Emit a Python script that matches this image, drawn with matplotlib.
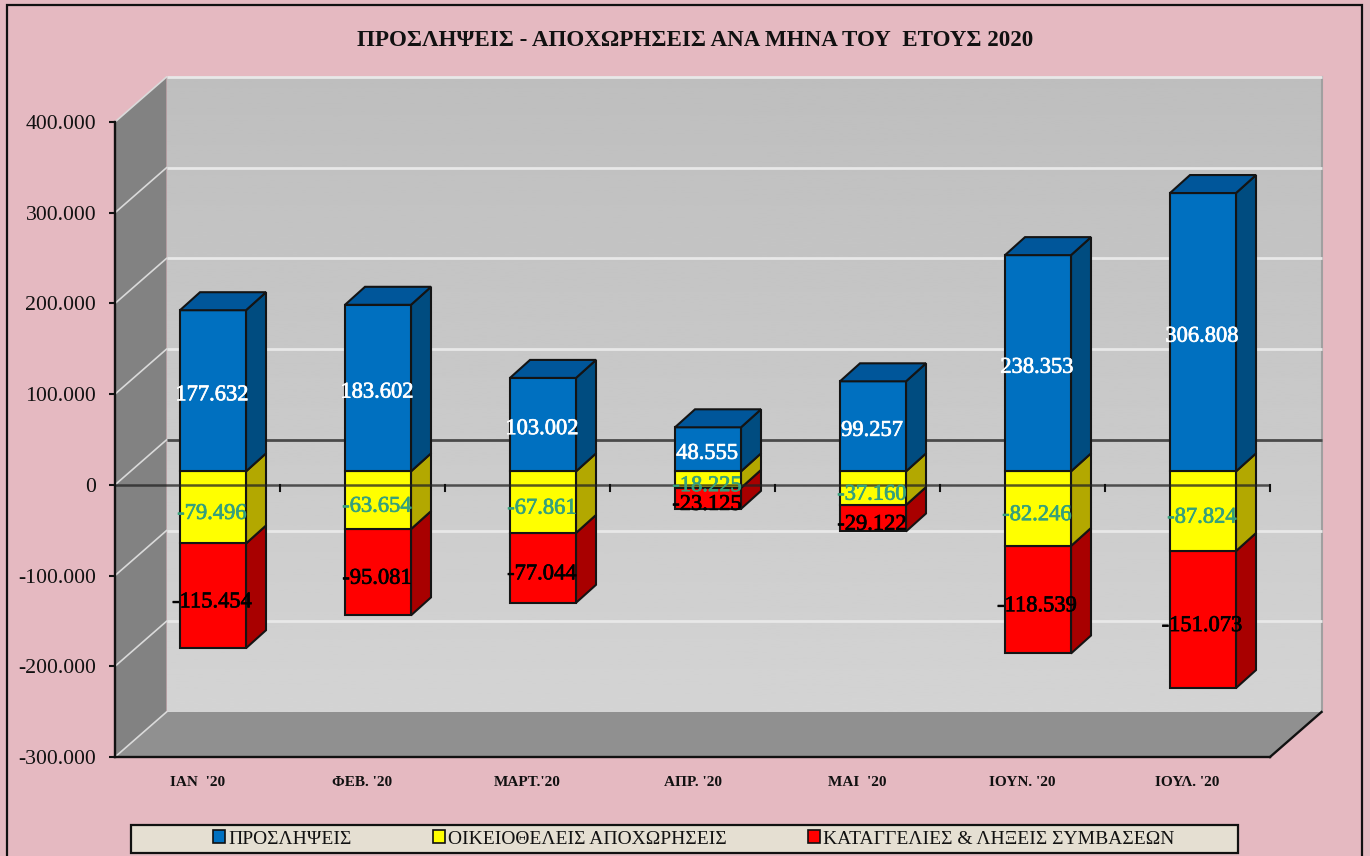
import matplotlib
matplotlib.use("Agg")
import matplotlib.pyplot as plt
import matplotlib.patheffects as pe
import numpy as np
from matplotlib.patches import Polygon, Patch, Rectangle

months = ["ΙΑΝ  '20", "ΦΕΒ. '20", "ΜΑΡΤ.'20", "ΑΠΡ. '20", "ΜΑΙ  '20", "ΙΟΥΝ. '20", "ΙΟΥΛ. '20"]
hires = [177632, 183602, 103002, 48555, 99257, 238353, 306808]
resign = [-79496, -63654, -67861, -18225, -37160, -82246, -87824]
fired = [-115454, -95081, -77044, -23125, -29122, -118539, -151073]
names = ["ΠΡΟΣΛΗΨΕΙΣ", "ΟΙΚΕΙΟΘΕΛΕΙΣ ΑΠΟΧΩΡΗΣΕΙΣ", "ΚΑΤΑΓΓΕΛΙΕΣ & ΛΗΞΕΙΣ ΣΥΜΒΑΣΕΩΝ"]
title = "ΠΡΟΣΛΗΨΕΙΣ - ΑΠΟΧΩΡΗΣΕΙΣ ΑΝΑ ΜΗΝΑ ΤΟΥ  ΕΤΟΥΣ 2020"
yticks = [400000, 300000, 200000, 100000, 0, -100000, -200000, -300000]

W, H = 1370, 856
L, R, T, B = 115, 1270, 122, 757
WALL_DX, WALL_DY = 51.5, 45
BAR_OX, BAR_OY = 15.5, 13.5
BAR_DX, BAR_DY = 20, 18
BAR_W = 0.40

plt.rcParams["font.family"] = ["Liberation Serif", "DejaVu Serif"]
fig = plt.figure(figsize=(W / 100, H / 100), dpi=100, facecolor="#E5B9C1")
fig.add_artist(Rectangle((6.5 / W, -0.02), (1362 - 6.5) / W, 1.02 - 5 / H, transform=fig.transFigure,
                         fill=False, ec="#111111", lw=1.6))
ax = fig.add_axes([L / W, 1 - B / H, (R - L) / W, (B - T) / H])
ax.set_xlim(-0.5, 6.5)
ax.set_ylim(-300000, 400000)
ax.patch.set_alpha(0)
for s in ax.spines.values():
    s.set_visible(False)

px_x = 7 / (R - L)
px_y = 700000 / (B - T)


def pt(x, y, dx=0, dy=0):
    return (x + dx * px_x, y + dy * px_y)


def poly(points, **kw):
    kw.setdefault("clip_on", False)
    p = Polygon(points, closed=True, **kw)
    ax.add_patch(p)
    return p


# back wall
grad = np.linspace(0.745, 0.83, 256).reshape(-1, 1)
x0, y1 = pt(-0.5, 400000, WALL_DX, WALL_DY)
x1, y0 = pt(6.5, -300000, WALL_DX, WALL_DY)
ax.imshow(grad, extent=(x0, x1, y0, y1), cmap="gray", vmin=0, vmax=1, aspect="auto",
          origin="upper", clip_on=False, zorder=0)
ax.set_xlim(-0.5, 6.5)
ax.set_ylim(-300000, 400000)
# left wall and floor
poly([pt(-0.5, 400000), pt(-0.5, 400000, WALL_DX, WALL_DY), pt(-0.5, -300000, WALL_DX, WALL_DY),
      pt(-0.5, -300000)], fc="#828282", ec="none", zorder=1)
poly([pt(-0.5, -300000), pt(-0.5, -300000, WALL_DX, WALL_DY), pt(6.5, -300000, WALL_DX, WALL_DY),
      pt(6.5, -300000)], fc="#909090", ec="none", zorder=1)
# right edge of back wall
ax.plot(*zip(pt(6.5, 400000, WALL_DX, WALL_DY), pt(6.5, -300000, WALL_DX, WALL_DY)),
        color="#A0A0A0", lw=1.5, clip_on=False, zorder=1.5)

# gridlines
for v in yticks:
    ax.plot(*zip(pt(-0.5, v), pt(-0.5, v, WALL_DX, WALL_DY)), color="#DADADA", lw=1.2,
            clip_on=False, zorder=2)
    if v == -300000:
        continue
    c = "#4A4A4A" if v == 0 else "#E8E8E8"
    ax.plot(*zip(pt(-0.5, v, WALL_DX, WALL_DY), pt(6.5, v, WALL_DX, WALL_DY)), color=c, lw=2.0,
            clip_on=False, zorder=2, solid_capstyle="butt")

# bars
colors = [("#0070C0", "#004C80", "#00569A"), ("#FFFF00", "#B3A800", "#B3A800"), ("#FF0000", "#A80000", "#A80000")]
edge = dict(ec="#141414", lw=1.5, joinstyle="miter")
for i in range(len(months)):
    xl, xr = i - BAR_W / 2, i + BAR_W / 2
    segs = [(0, hires[i], 0), (0, resign[i], 1), (resign[i], resign[i] + fired[i], 2)]
    for base, top, k in [segs[2], segs[1], segs[0]]:
        f, s, t = colors[k]
        poly([pt(xr, base, BAR_OX, BAR_OY), pt(xr, top, BAR_OX, BAR_OY),
              pt(xr, top, BAR_OX + BAR_DX, BAR_OY + BAR_DY), pt(xr, base, BAR_OX + BAR_DX, BAR_OY + BAR_DY)],
             fc=s, zorder=3, **edge)
        poly([pt(xl, base, BAR_OX, BAR_OY), pt(xr, base, BAR_OX, BAR_OY),
              pt(xr, top, BAR_OX, BAR_OY), pt(xl, top, BAR_OX, BAR_OY)], fc=f, zorder=3, **edge)
    poly([pt(xl, hires[i], BAR_OX, BAR_OY), pt(xr, hires[i], BAR_OX, BAR_OY),
          pt(xr, hires[i], BAR_OX + BAR_DX, BAR_OY + BAR_DY), pt(xl, hires[i], BAR_OX + BAR_DX, BAR_OY + BAR_DY)],
         fc=colors[0][2], zorder=3, **edge)
    tx, _ = pt(i, 0, BAR_OX - 1, 0)
    for base, top, k in segs:
        col = ["white", "#35A07C", "black"][k]
        _, ty = pt(0, (base + top) / 2, 0, BAR_OY - (5 if k == 0 else 7))
        ax.text(tx, ty, f"{abs(top - base) * (1 if k == 0 else -1):,}".replace(",", "."), color=col,
                fontsize=16.2, ha="center", va="center", zorder=6, clip_on=False,
                path_effects=[pe.withStroke(linewidth=0.5, foreground=col)])

# front axis lines
ax.plot([-0.5, 6.5], [0, 0], color="#222222", lw=1.8, alpha=0.75, clip_on=False, zorder=4, solid_capstyle="butt")
ax.plot([-0.5, -0.5], [-300000, 400000], color="#111111", lw=1.7, clip_on=False, zorder=4)
ax.plot([-0.5, 6.5], [-300000, -300000], color="#111111", lw=1.7, clip_on=False, zorder=4)
ax.plot(*zip(pt(6.5, -300000), pt(6.5, -300000, WALL_DX, WALL_DY)), color="#111111", lw=1.7,
        clip_on=False, zorder=4)

# ticks
ax.set_yticks(yticks)
ax.set_yticklabels([f"{v:,}".replace(",", ".") for v in yticks], fontsize=15.7, color="#111111")
ax.tick_params(axis="y", length=4.5, width=1.5, color="#111111", pad=9)
ax.set_xticks([])
for k in range(1, 8):
    ax.plot([k - 0.5, k - 0.5], [0, -6 * px_y], color="#111111", lw=1.5, clip_on=False, zorder=4)
for i, m in enumerate(months):
    ax.text(i, -300000 - 25 * px_y, m, fontsize=11, fontweight="bold", ha="center", va="center",
            color="#111111", clip_on=False)

fig.text(695 / W, 1 - 40 / H, title, fontsize=16.6, fontweight="bold", ha="center", va="center", color="#111111")

# legend
fig.add_artist(Rectangle((131 / W, 1 - 853 / H), 1107 / W, 28 / H, transform=fig.transFigure,
                         fc="#E5DFD2", ec="#111111", lw=1.6))
handles = [Patch(fc=c[0], ec="#111111", lw=1.2) for c in colors]
leg = fig.legend(handles, names, ncol=3, frameon=False, fontsize=14, loc="center left",
                 bbox_to_anchor=(213 / W, 1 - 839 / H), handlelength=0.62, handleheight=0.62,
                 handletextpad=0.15, columnspacing=4.2, borderpad=0, borderaxespad=0)
for t in leg.get_texts():
    t.set_color("#111111")

fig.savefig("out.png", dpi=100, facecolor=fig.get_facecolor())
